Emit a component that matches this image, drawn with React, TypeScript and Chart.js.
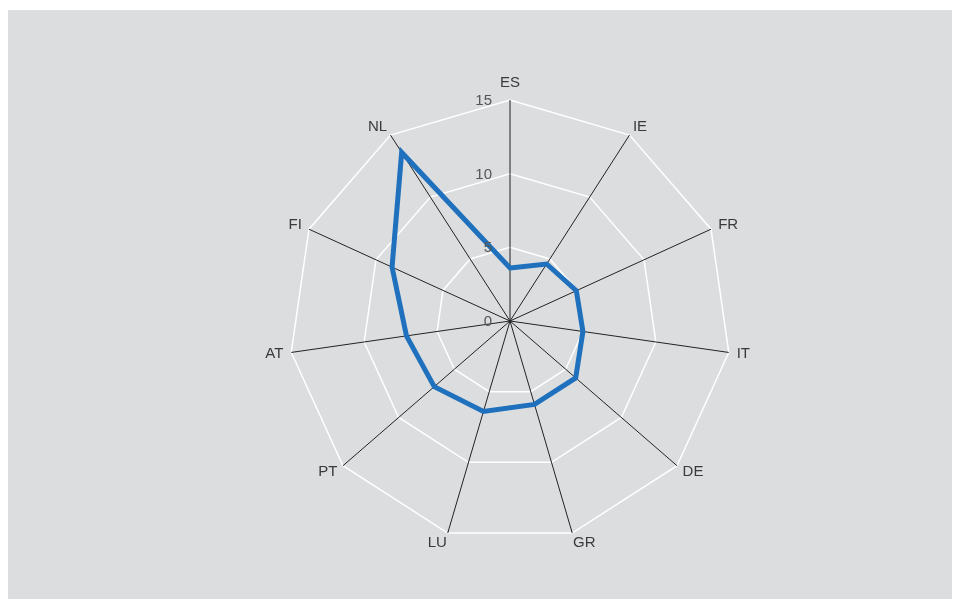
import React, { useEffect, useRef } from "react";
import { Chart, registerables } from "chart.js";

Chart.register(...registerables);

const categories = ["ES", "IE", "FR", "IT", "DE", "GR", "LU", "PT", "AT", "FI", "NL"];
const seriesValues = [3.6, 4.6, 4.95, 5.0, 5.9, 5.9, 6.4, 6.8, 7.1, 8.8, 13.6];
const tickValues = [0, 5, 10, 15];
const tickLabels = ["0", "5", "10", "15"];

const FONT = "'Liberation Sans', Arial, Helvetica, sans-serif";

const labelPlugin = {
  id: "customLabels",
  afterDraw(chart: any) {
    const scale = chart.scales.r;
    const ctx = chart.ctx;
    ctx.save();
    // tick labels
    ctx.font = `15px ${FONT}`;
    ctx.fillStyle = "#555555";
    ctx.textAlign = "right";
    ctx.textBaseline = "middle";
    tickValues.forEach((v, i) => {
      const d = scale.getDistanceFromCenterForValue(v);
      ctx.fillText(tickLabels[i], scale.xCenter - 18, scale.yCenter - d + 1);
    });
    // point labels
    ctx.fillStyle = "#3a3a3a";
    categories.forEach((lab, i) => {
      const p = scale.getPointPosition(i, scale.drawingArea + 10);
      const ang = ((scale.getIndexAngle(i) * 180) / Math.PI + 360) % 360;
      if (Math.abs(ang) < 1 || Math.abs(ang - 360) < 1) {
        ctx.textAlign = "center";
        ctx.textBaseline = "bottom";
        ctx.fillText(lab, p.x, p.y);
      } else {
        ctx.textAlign = ang < 180 ? "left" : "right";
        ctx.textBaseline = "middle";
        ctx.fillText(lab, ang < 180 ? p.x - 2 : p.x + 2, p.y);
      }
    });
    ctx.restore();
  },
};

export default function App() {
  const ref = useRef<HTMLCanvasElement | null>(null);
  useEffect(() => {
    if (!ref.current) return;
    const chart = new Chart(ref.current, {
      type: "radar",
      data: {
        labels: categories,
        datasets: [
          {
            data: seriesValues,
            borderColor: "#1f70bd",
            borderWidth: 5,
            pointRadius: 0,
            fill: false,
            borderJoinStyle: "miter",
            tension: 0,
          },
        ],
      },
      options: {
        animation: false,
        responsive: false,
        maintainAspectRatio: false,
        layout: { padding: { top: 90, bottom: 57, left: 202, right: 150 } },
        plugins: { legend: { display: false }, tooltip: { enabled: false } },
        scales: {
          r: {
            min: 0,
            max: 15,
            ticks: { display: false, stepSize: 5 },
            pointLabels: { display: false },
            grid: { color: "#ffffff", lineWidth: 1.5 },
            angleLines: { color: "#222222", lineWidth: 1 },
          },
        },
      },
      plugins: [labelPlugin],
    } as any);
    return () => chart.destroy();
  }, []);
  return (
    <div
      style={{
        marginTop: 2,
        width: 952,
        height: 589,
        background: "#dcdddf",
        position: "relative",
      }}
    >
      <canvas ref={ref} width={952} height={589} style={{ display: "block" }} />
    </div>
  );
}
